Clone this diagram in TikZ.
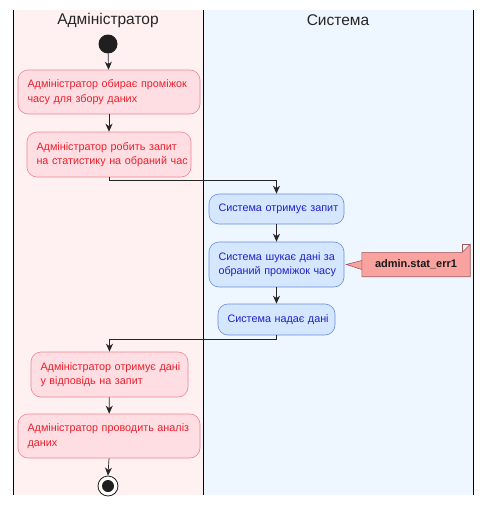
\documentclass[tikz,border=0pt]{standalone}
\usepackage{fontspec}
\setmainfont{Liberation Sans}
\usetikzlibrary{arrows.meta}
\definecolor{lanered}{HTML}{FFF0F2}
\definecolor{laneblue}{HTML}{EEF6FF}
\definecolor{redfill}{HTML}{FFDEE3}
\definecolor{redline}{HTML}{EE8590}
\definecolor{redtext}{HTML}{E8202C}
\definecolor{bluefill}{HTML}{D4E7FF}
\definecolor{blueline}{HTML}{6A8CE0}
\definecolor{bluetext}{HTML}{2020C8}
\definecolor{notefill}{HTML}{F9A3A0}
\definecolor{noteline}{HTML}{A05858}
\tikzset{
  act/.style={rectangle, rounded corners=10pt, line width=0.6pt, align=left,
    inner xsep=9.5pt, inner ysep=0pt, font=\fontsize{10.8}{14.5}\selectfont},
  redact/.style={act, fill=redfill, draw=redline, text=redtext},
  blueact/.style={act, fill=bluefill, draw=blueline, text=bluetext},
  flow/.style={draw=black!85, line width=0.7pt, -{Stealth[length=8pt,width=7pt,inset=2.5pt]}},
  lanetitle/.style={font=\fontsize{15.5}{18}\selectfont, text=black!85},
}
\begin{document}
\begin{tikzpicture}[x=1pt,y=-1pt]
\useasboundingbox (0,0) rectangle (491,506);
\fill[white] (0,0) rectangle (491,506);
% lanes
\fill[lanered] (13,10) rectangle (203,495);
\fill[laneblue] (203,10) rectangle (473,495);
\draw[black, line width=0.8pt] (13,10) -- (13,495);
\draw[black, line width=0.8pt] (203,10) -- (203,495);
\draw[black, line width=0.8pt] (473,10) -- (473,495);
\node[lanetitle] (t1) at (108,20) {Адміністратор};
\node[lanetitle] (t2) at (338,20) {Система};
% start
\node[circle, fill=black!88, minimum size=19pt, inner sep=0pt] (start) at (108,44) {};
% actions
\node[redact, text width=163pt, minimum height=44pt] (n1) at (109,92) {\mbox{Адміністратор обирає проміжок}\\\mbox{часу для збору даних}};
\node[redact, text width=145pt, minimum height=45pt] (n2) at (109,154.5) {\mbox{Адміністратор робить запит}\\\mbox{на статистику на обраний час}};
\node[blueact, text width=116pt, minimum height=30pt] (n3) at (276.5,209) {\mbox{Система отримує запит}};
\node[blueact, text width=116pt, minimum height=45pt] (n4) at (276.5,264.5) {\mbox{Система шукає дані за}\\\mbox{обраний проміжок часу}};
\node[blueact, text width=98pt, minimum height=31pt] (n5) at (276.5,319.5) {\mbox{Система надає дані}};
\node[redact, text width=138pt, minimum height=45pt] (n6) at (109.5,374.5) {\mbox{Адміністратор отримує дані}\\\mbox{у відповідь на запит}};
\node[redact, text width=163pt, minimum height=44pt] (n7) at (109,436) {\mbox{Адміністратор проводить аналіз}\\\mbox{даних}};
% end
\node[circle, draw=black!88, line width=0.8pt, fill=white, minimum size=20pt, inner sep=0pt] (end) at (108,486) {};
\node[circle, fill=black!88, minimum size=12pt, inner sep=0pt] (endin) at (end.center) {};
% note
\node[minimum width=108pt, minimum height=24pt, inner sep=0pt] (note) at (416,264.5) {};
\draw[fill=notefill, draw=noteline, line width=0.6pt]
  (note.north west) -- ([xshift=-8pt]note.north east) -- ([yshift=8pt]note.north east)
  -- (note.south east) -- (note.south west) -- ([yshift=4pt]note.west)
  -- ([xshift=2pt]n4.east) -- ([yshift=-5pt]note.west) -- cycle;
\draw[draw=noteline, line width=0.6pt] ([xshift=-8pt]note.north east) -- ([xshift=-8pt,yshift=8pt]note.north east) -- ([yshift=8pt]note.north east);
\node[font=\bfseries\fontsize{11}{13}\selectfont, text=black!90] (notetext) at (note.center) {admin.stat\_err1};
% flows
\draw[flow] (start) -- (n1);
\draw[flow] (n1) -- (n2);
\coordinate (b1) at (109,180.5);
\coordinate (b2) at (276.5,180.5);
\draw[flow] (n2.south) -- (b1) -- (b2) -- (n3.north);
\draw[flow] (n3) -- (n4);
\draw[flow] (n4) -- (n5);
\coordinate (c1) at (276.5,339);
\coordinate (c2) at (109.5,339);
\draw[flow] (n5.south) -- (c1) -- (c2) -- (n6.north);
\draw[flow] (n6) -- (n7);
\draw[flow] (n7.south) -- (end.north);
\end{tikzpicture}
\end{document}
